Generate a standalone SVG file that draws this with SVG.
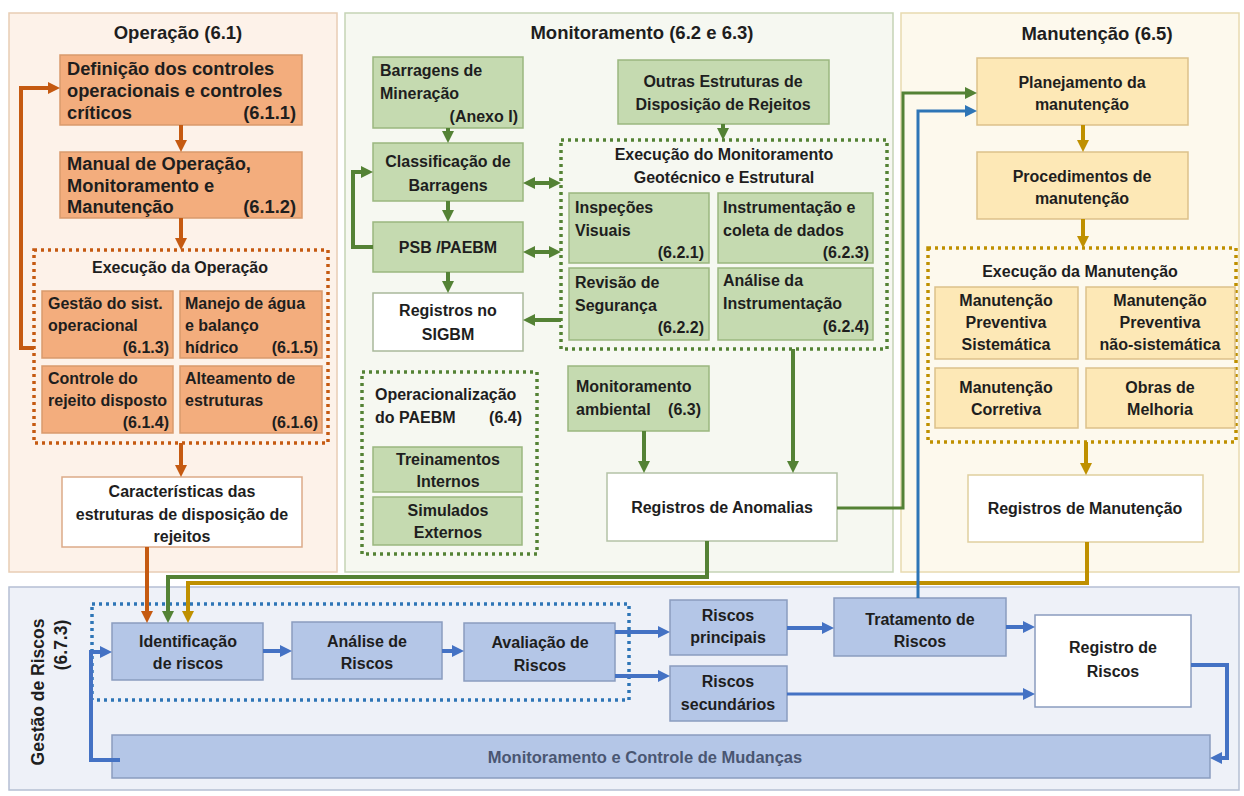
<svg xmlns="http://www.w3.org/2000/svg" width="1244" height="796" viewBox="0 0 1244 796">
<style>
text{font-family:"Liberation Sans",Arial,sans-serif;font-weight:bold;font-size:16px;fill:#1e1e1e}
.c{text-anchor:middle}
.r{text-anchor:end}
.big{font-size:18.3px}
.ttl{font-size:18.5px}
.panel{stroke-width:1.5}
.no{fill:#f3ad7d;stroke:#d99a6c;stroke-width:1.5}
.ng{fill:#c5dab0;stroke:#9ab77f;stroke-width:1.5}
.ny{fill:#fde8b6;stroke:#dcc18a;stroke-width:1.5}
.nb{fill:#b4c6e7;stroke:#8a9cbf;stroke-width:1.5}
.nw{fill:#ffffff;stroke-width:1.5}
.dot{fill:none;stroke-width:3.5;stroke-dasharray:3 4}
.co{fill:none;stroke:#c55a11;stroke-width:4}
.cg{fill:none;stroke:#548235;stroke-width:4}
.cy{fill:none;stroke:#bf9000;stroke-width:4}
.cb{fill:none;stroke:#4472c4;stroke-width:4}
.mut{font-size:16.5px;fill:#4a5672}
</style>
<defs>
<marker id="aO" viewBox="0 0 12 12" refX="6" refY="6" markerWidth="12" markerHeight="12" markerUnits="userSpaceOnUse" orient="auto-start-reverse"><path d="M0,0L12,6L0,12z" fill="#c55a11"/></marker>
<marker id="aG" viewBox="0 0 12 12" refX="6" refY="6" markerWidth="12" markerHeight="12" markerUnits="userSpaceOnUse" orient="auto-start-reverse"><path d="M0,0L12,6L0,12z" fill="#548235"/></marker>
<marker id="aY" viewBox="0 0 12 12" refX="6" refY="6" markerWidth="12" markerHeight="12" markerUnits="userSpaceOnUse" orient="auto-start-reverse"><path d="M0,0L12,6L0,12z" fill="#bf9000"/></marker>
<marker id="aB" viewBox="0 0 12 12" refX="6" refY="6" markerWidth="12" markerHeight="12" markerUnits="userSpaceOnUse" orient="auto-start-reverse"><path d="M0,0L12,6L0,12z" fill="#4472c4"/></marker>
<marker id="aB2" viewBox="0 0 12 12" refX="6" refY="6" markerWidth="12" markerHeight="12" markerUnits="userSpaceOnUse" orient="auto-start-reverse"><path d="M0,0L12,6L0,12z" fill="#2e75b6"/></marker>
</defs>
<rect width="1244" height="796" fill="#ffffff"/>

<!-- panels -->
<g id="panel-operacao">
<rect class="panel" x="9" y="13" width="328" height="559" fill="#fdf2e9" stroke="#e8cdb4"/>
<text class="ttl c" x="178" y="39">Operação (6.1)</text>
</g>
<g id="panel-monitoramento">
<rect class="panel" x="345" y="13" width="548" height="559" fill="#f6f8f1" stroke="#c5d3b5"/>
<text class="ttl c" x="642" y="39">Monitoramento (6.2 e 6.3)</text>
</g>
<g id="panel-manutencao">
<rect class="panel" x="901" y="13" width="338" height="559" fill="#fdf9ed" stroke="#e8dab0"/>
<text class="ttl c" x="1097" y="40">Manutenção (6.5)</text>
</g>
<g id="panel-gestao">
<rect class="panel" x="9" y="587" width="1230" height="203" fill="#eef1f8" stroke="#b5bfd3"/>
<text class="c" style="font-size:17.5px" transform="translate(44,692) rotate(-90)">Gestão de Riscos</text>
<text class="c" style="font-size:17.5px" transform="translate(67,645) rotate(-90)">(6.7.3)</text>
</g>

<!-- Operação nodes -->
<g id="n611"><rect class="no" x="60" y="55" width="242" height="70"/>
<text class="big" x="67" y="75">Definição dos controles</text><text class="big" x="67" y="97">operacionais e controles</text><text class="big" x="67" y="119">críticos</text><text class="big r" x="296" y="119">(6.1.1)</text></g>
<g id="n612"><rect class="no" x="60" y="152" width="242" height="66"/>
<text class="big" x="67" y="170">Manual de Operação,</text><text class="big" x="67" y="192">Monitoramento e</text><text class="big" x="67" y="213">Manutenção</text><text class="big r" x="296" y="213">(6.1.2)</text></g>
<g id="exec-operacao"><rect class="dot" x="34" y="250" width="294" height="193" stroke="#c55a11"/>
<text class="c" x="180" y="273">Execução da Operação</text></g>
<g id="n613"><rect class="no" x="42" y="291" width="131" height="67"/>
<text x="48" y="309">Gestão do sist.</text><text x="48" y="331">operacional</text><text class="r" x="169" y="353">(6.1.3)</text></g>
<g id="n615"><rect class="no" x="180" y="291" width="142" height="67"/>
<text x="185" y="309">Manejo de água</text><text x="185" y="331">e balanço</text><text x="185" y="353">hídrico</text><text class="r" x="318" y="353">(6.1.5)</text></g>
<g id="n614"><rect class="no" x="42" y="366" width="131" height="67"/>
<text x="48" y="384">Controle do</text><text x="48" y="406">rejeito disposto</text><text class="r" x="169" y="428">(6.1.4)</text></g>
<g id="n616"><rect class="no" x="180" y="366" width="142" height="67"/>
<text x="185" y="384">Alteamento de</text><text x="185" y="406">estruturas</text><text class="r" x="318" y="428">(6.1.6)</text></g>
<g id="caracteristicas"><rect class="nw" x="62" y="477" width="240" height="70" stroke="#dcaa88"/>
<text class="c" x="182" y="497">Características das</text><text class="c" x="182" y="520">estruturas de disposição de</text><text class="c" x="182" y="542">rejeitos</text></g>

<!-- Monitoramento nodes -->
<g id="barragens"><rect class="ng" x="373" y="57" width="150" height="71"/>
<text x="380" y="76">Barragens de</text><text x="380" y="99">Mineração</text><text class="r" x="518" y="122">(Anexo I)</text></g>
<g id="outras"><rect class="ng" x="618" y="60" width="211" height="64"/>
<text class="c" x="723" y="87">Outras Estruturas de</text><text class="c" x="723" y="110">Disposição de Rejeitos</text></g>
<g id="classificacao"><rect class="ng" x="373" y="143" width="150" height="58"/>
<text class="c" x="448" y="167">Classificação de</text><text class="c" x="448" y="191">Barragens</text></g>
<g id="psb"><rect class="ng" x="373" y="222" width="150" height="50"/>
<text class="c" x="448" y="253">PSB /PAEBM</text></g>
<g id="sigbm"><rect class="nw" x="373" y="293" width="150" height="58" stroke="#a9b89a"/>
<text class="c" x="448" y="316">Registros no</text><text class="c" x="448" y="340">SIGBM</text></g>
<g id="exec-monitoramento"><rect class="dot" x="561" y="140" width="326" height="209" stroke="#548235"/>
<text class="c" x="724" y="160">Execução do Monitoramento</text><text class="c" x="724" y="183">Geotécnico e Estrutural</text></g>
<g id="n621"><rect class="ng" x="569" y="193" width="140" height="70"/>
<text x="575" y="213">Inspeções</text><text x="575" y="236">Visuais</text><text class="r" x="704" y="258">(6.2.1)</text></g>
<g id="n623"><rect class="ng" x="718" y="193" width="155" height="70"/>
<text x="723" y="213">Instrumentação e</text><text x="723" y="236">coleta de dados</text><text class="r" x="869" y="258">(6.2.3)</text></g>
<g id="n622"><rect class="ng" x="569" y="268" width="140" height="72"/>
<text x="575" y="288">Revisão de</text><text x="575" y="311">Segurança</text><text class="r" x="704" y="333">(6.2.2)</text></g>
<g id="n624"><rect class="ng" x="718" y="268" width="155" height="72"/>
<text x="723" y="286">Análise da</text><text x="723" y="309">Instrumentação</text><text class="r" x="869" y="332">(6.2.4)</text></g>
<g id="operacionalizacao"><rect class="dot" x="362" y="372" width="175" height="182" stroke="#548235"/>
<text x="375" y="400">Operacionalização</text><text x="375" y="423">do PAEBM</text><text class="r" x="522" y="423">(6.4)</text></g>
<g id="treinamentos"><rect class="ng" x="373" y="447" width="149" height="45"/>
<text class="c" x="448" y="465">Treinamentos</text><text class="c" x="448" y="487">Internos</text></g>
<g id="simulados"><rect class="ng" x="373" y="497" width="149" height="48"/>
<text class="c" x="448" y="516">Simulados</text><text class="c" x="448" y="538">Externos</text></g>
<g id="mon-ambiental"><rect class="ng" x="568" y="366" width="141" height="65"/>
<text x="576" y="392">Monitoramento</text><text x="576" y="415">ambiental</text><text class="r" x="701" y="415">(6.3)</text></g>
<g id="anomalias"><rect class="nw" x="607" y="473" width="230" height="68" stroke="#b4c2a6"/>
<text class="c" x="722" y="513">Registros de Anomalias</text></g>

<!-- Manutenção nodes -->
<g id="planejamento"><rect class="ny" x="977" y="58" width="211" height="67"/>
<text class="c" x="1082" y="88">Planejamento da</text><text class="c" x="1082" y="110">manutenção</text></g>
<g id="procedimentos"><rect class="ny" x="977" y="152" width="211" height="67"/>
<text class="c" x="1082" y="182">Procedimentos de</text><text class="c" x="1082" y="204">manutenção</text></g>
<g id="exec-manutencao"><rect class="dot" x="928" y="248" width="308" height="194" stroke="#bf9000"/>
<text class="c" x="1080" y="277">Execução da Manutenção</text></g>
<g id="mps"><rect class="ny" x="935" y="287" width="143" height="72"/>
<text class="c" x="1006" y="306">Manutenção</text><text class="c" x="1006" y="328">Preventiva</text><text class="c" x="1006" y="350">Sistemática</text></g>
<g id="mpns"><rect class="ny" x="1086" y="287" width="149" height="72"/>
<text class="c" x="1160" y="306">Manutenção</text><text class="c" x="1160" y="328">Preventiva</text><text class="c" x="1160" y="350">não-sistemática</text></g>
<g id="corretiva"><rect class="ny" x="935" y="368" width="143" height="60"/>
<text class="c" x="1006" y="393">Manutenção</text><text class="c" x="1006" y="415">Corretiva</text></g>
<g id="obras"><rect class="ny" x="1086" y="368" width="149" height="60"/>
<text class="c" x="1160" y="393">Obras de</text><text class="c" x="1160" y="415">Melhoria</text></g>
<g id="reg-manutencao"><rect class="nw" x="968" y="475" width="235" height="67" stroke="#e0cf9f"/>
<text class="c" x="1085" y="514">Registros de Manutenção</text></g>

<!-- Gestão nodes -->
<g id="grupo-avaliacao"><rect class="dot" x="92" y="604" width="537" height="96" stroke="#2e75b6"/></g>
<g id="identificacao"><rect class="nb" x="112" y="623" width="151" height="57"/>
<text class="c" x="188" y="647">Identificação</text><text class="c" x="188" y="669">de riscos</text></g>
<g id="analise"><rect class="nb" x="292" y="622" width="150" height="57"/>
<text class="c" x="367" y="647">Análise de</text><text class="c" x="367" y="669">Riscos</text></g>
<g id="avaliacao"><rect class="nb" x="464" y="623" width="151" height="58"/>
<text class="c" x="540" y="648">Avaliação de</text><text class="c" x="540" y="671">Riscos</text></g>
<g id="riscos-principais"><rect class="nb" x="670" y="600" width="117" height="55"/>
<text class="c" x="728" y="621">Riscos</text><text class="c" x="728" y="643">principais</text></g>
<g id="riscos-secundarios"><rect class="nb" x="670" y="666" width="117" height="55"/>
<text class="c" x="728" y="687">Riscos</text><text class="c" x="728" y="710">secundários</text></g>
<g id="tratamento"><rect class="nb" x="834" y="598" width="172" height="58"/>
<text class="c" x="920" y="625">Tratamento de</text><text class="c" x="920" y="647">Riscos</text></g>
<g id="registro-riscos"><rect class="nw" x="1035" y="615" width="156" height="92" stroke="#8a9cbf"/>
<text class="c" x="1113" y="653">Registro de</text><text class="c" x="1113" y="677">Riscos</text></g>
<g id="mon-controle"><rect class="nb" x="112" y="735" width="1098" height="43"/>
<text class="c mut" x="645" y="763">Monitoramento e Controle de Mudanças</text></g>

<!-- connectors -->
<g id="connectors">
<path class="co" d="M181,125V146" marker-end="url(#aO)"/>
<path class="co" d="M181,218V244" marker-end="url(#aO)"/>
<path class="co" d="M181,443V471" marker-end="url(#aO)"/>
<path class="co" d="M147,547V617" marker-end="url(#aO)"/>
<path class="co" d="M34,348H21V88H54" marker-end="url(#aO)"/>

<path class="cg" d="M448,128V137" marker-end="url(#aG)"/>
<path class="cg" d="M448,201V216" marker-end="url(#aG)"/>
<path class="cg" d="M448,272V287" marker-end="url(#aG)"/>
<path class="cg" d="M373,247H353V172H367" marker-end="url(#aG)"/>
<path class="cg" d="M529,183H555" marker-start="url(#aG)" marker-end="url(#aG)"/>
<path class="cg" d="M529,252H555" marker-start="url(#aG)" marker-end="url(#aG)"/>
<path class="cg" d="M561,320H529" marker-end="url(#aG)"/>
<path class="cg" d="M723,124V134" marker-end="url(#aG)"/>
<path class="cg" d="M793,349V467" marker-end="url(#aG)"/>
<path class="cg" d="M644,431V467" marker-end="url(#aG)"/>
<path class="cg" d="M707,541V577H168V617" marker-end="url(#aG)"/>
<path class="cg" style="stroke-width:3" d="M837,508H903V93H971" marker-end="url(#aG)"/>

<path class="cy" d="M1083,125V146" marker-end="url(#aY)"/>
<path class="cy" d="M1083,219V242" marker-end="url(#aY)"/>
<path class="cy" d="M1086,442V469" marker-end="url(#aY)"/>
<path class="cy" d="M1087,542V583H188V617" marker-end="url(#aY)"/>

<path fill="none" stroke="#2e75b6" stroke-width="3" d="M918,598V111H971" marker-end="url(#aB2)"/>
<path class="cb" d="M263,651H286" marker-end="url(#aB)"/>
<path class="cb" d="M442,651H458" marker-end="url(#aB)"/>
<path class="cb" d="M615,632H664" marker-end="url(#aB)"/>
<path class="cb" d="M615,676H664" marker-end="url(#aB)"/>
<path class="cb" d="M787,628H828" marker-end="url(#aB)"/>
<path class="cb" d="M1006,627H1029" marker-end="url(#aB)"/>
<path class="cb" style="stroke-width:3" d="M787,694H1029" marker-end="url(#aB)"/>
<path class="cb" d="M1191,665H1227V758H1216" marker-end="url(#aB)"/>
<path class="cb" d="M120,760H91V652H106" marker-end="url(#aB)"/>
</g>
</svg>
